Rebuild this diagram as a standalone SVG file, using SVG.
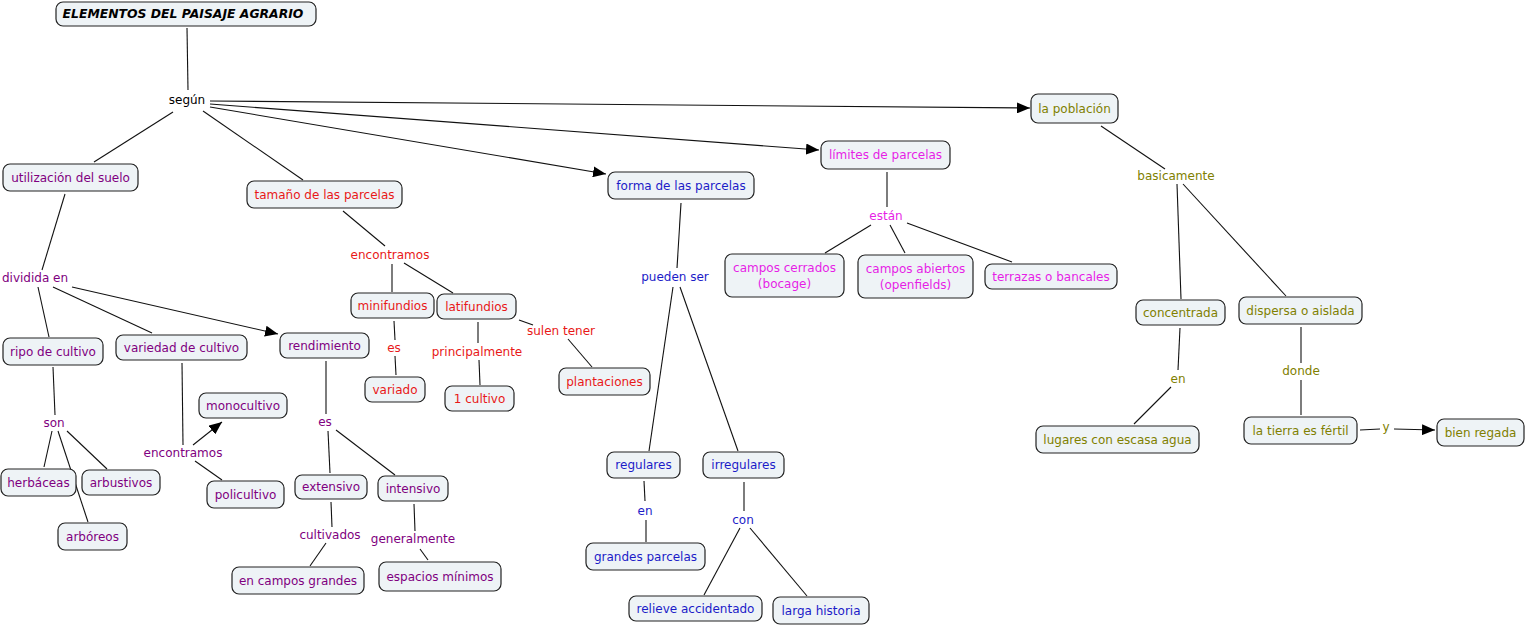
<svg xmlns="http://www.w3.org/2000/svg" width="1527" height="626" viewBox="0 0 1527 626">
<style>
.n rect{fill:#eef3f6;stroke:#222;stroke-width:1.2}
text{font-family:"DejaVu Sans",Verdana,sans-serif;font-size:12px;text-anchor:middle}
.t{font-weight:bold;font-style:italic;fill:#000;font-size:12.4px}
.k{fill:#000}.p{fill:#800080}.r{fill:#e81818}.b{fill:#1c1cc8}.m{fill:#e61ee6}.o{fill:#808000}
#links line{stroke:#111;stroke-width:1.1}
</style>
<defs>
<marker id="ah" viewBox="0 0 13 11" refX="13" refY="5.5" markerWidth="13" markerHeight="11" markerUnits="userSpaceOnUse" orient="auto">
<path d="M0,0 L13,5.5 L0,11 z" fill="#000"/>
</marker>
</defs>
<rect width="1527" height="626" fill="#fff"/>
<g id="links">
<line x1="187" y1="28" x2="188" y2="90"/>
<line x1="173" y1="112" x2="94" y2="162"/>
<line x1="203" y1="111" x2="303" y2="180"/>
<line x1="210" y1="101" x2="1030" y2="108" marker-end="url(#ah)"/>
<line x1="210" y1="104" x2="819" y2="150" marker-end="url(#ah)"/>
<line x1="210" y1="107" x2="606" y2="174" marker-end="url(#ah)"/>
<line x1="65" y1="194" x2="42" y2="270"/>
<line x1="38" y1="287" x2="49" y2="337"/>
<line x1="53" y1="287" x2="152" y2="333"/>
<line x1="72" y1="287" x2="278" y2="334" marker-end="url(#ah)"/>
<line x1="53" y1="367" x2="55" y2="415"/>
<line x1="52" y1="431" x2="44" y2="467"/>
<line x1="58" y1="431" x2="88" y2="522"/>
<line x1="67" y1="431" x2="107" y2="469"/>
<line x1="182" y1="363" x2="183" y2="445"/>
<line x1="193" y1="445" x2="222" y2="422" marker-end="url(#ah)"/>
<line x1="195" y1="461" x2="222" y2="480"/>
<line x1="326" y1="361" x2="326" y2="414"/>
<line x1="328" y1="431" x2="330" y2="473"/>
<line x1="336" y1="430" x2="395" y2="475"/>
<line x1="331" y1="502" x2="332" y2="527"/>
<line x1="326" y1="543" x2="310" y2="566"/>
<line x1="414" y1="504" x2="415" y2="531"/>
<line x1="420" y1="549" x2="428" y2="560"/>
<line x1="343" y1="211" x2="385" y2="246"/>
<line x1="392" y1="264" x2="392" y2="292"/>
<line x1="404" y1="263" x2="453" y2="293"/>
<line x1="394" y1="321" x2="395" y2="340"/>
<line x1="395" y1="356" x2="396" y2="375"/>
<line x1="478" y1="322" x2="478" y2="343"/>
<line x1="479" y1="360" x2="480" y2="385"/>
<line x1="519" y1="320" x2="533" y2="325"/>
<line x1="568" y1="339" x2="592" y2="367"/>
<line x1="681" y1="203" x2="677" y2="268"/>
<line x1="673" y1="287" x2="649" y2="451"/>
<line x1="680" y1="287" x2="738" y2="451"/>
<line x1="644" y1="481" x2="645" y2="501"/>
<line x1="646" y1="520" x2="646" y2="542"/>
<line x1="744" y1="482" x2="744" y2="511"/>
<line x1="740" y1="528" x2="704" y2="595"/>
<line x1="750" y1="528" x2="807" y2="596"/>
<line x1="887" y1="172" x2="887" y2="207"/>
<line x1="871" y1="225" x2="825" y2="253"/>
<line x1="890" y1="225" x2="905" y2="253"/>
<line x1="907" y1="223" x2="1012" y2="262"/>
<line x1="1101" y1="126" x2="1165" y2="169"/>
<line x1="1177" y1="184" x2="1181" y2="299"/>
<line x1="1183" y1="184" x2="1286" y2="296"/>
<line x1="1180" y1="328" x2="1178" y2="370"/>
<line x1="1171" y1="387" x2="1134" y2="424"/>
<line x1="1301" y1="327" x2="1301" y2="363"/>
<line x1="1301" y1="380" x2="1301" y2="415"/>
<line x1="1360" y1="430" x2="1380" y2="429"/>
<line x1="1394" y1="429" x2="1435" y2="430" marker-end="url(#ah)"/>
</g>
<g id="labels">
<text class="k" x="187" y="104">según</text>
<text class="p" x="35" y="282">dividida en</text>
<text class="p" x="54" y="427">son</text>
<text class="p" x="183" y="457">encontramos</text>
<text class="p" x="325" y="426">es</text>
<text class="p" x="330" y="539">cultivados</text>
<text class="p" x="413" y="543">generalmente</text>
<text class="r" x="390" y="259">encontramos</text>
<text class="r" x="394" y="352">es</text>
<text class="r" x="477" y="356">principalmente</text>
<text class="r" x="561" y="335">sulen tener</text>
<text class="b" x="675" y="281">pueden ser</text>
<text class="b" x="645" y="515">en</text>
<text class="b" x="743" y="524">con</text>
<text class="m" x="886" y="220">están</text>
<text class="o" x="1176" y="180">basicamente</text>
<text class="o" x="1178" y="383">en</text>
<text class="o" x="1301" y="375">donde</text>
<text class="o" x="1386" y="431">y</text>
</g>
<g id="title" class="n"><rect x="56" y="2" width="260" height="24" rx="7"/><text class="t" x="183" y="18">ELEMENTOS DEL PAISAJE AGRARIO</text></g>
<g id="utilizacion" class="n"><rect x="3" y="164" width="135" height="27" rx="7"/><text class="p" x="70.5" y="182">utilización del suelo</text></g>
<g id="tamano" class="n"><rect x="247" y="181" width="155" height="27" rx="7"/><text class="r" x="324.5" y="199">tamaño de las parcelas</text></g>
<g id="forma" class="n"><rect x="608" y="172" width="146" height="27" rx="7"/><text class="b" x="681" y="190">forma de las parcelas</text></g>
<g id="limites" class="n"><rect x="821" y="141" width="129" height="28" rx="7"/><text class="m" x="885.5" y="159">límites de parcelas</text></g>
<g id="poblacion" class="n"><rect x="1031" y="94" width="87" height="29" rx="7"/><text class="o" x="1074.5" y="113">la población</text></g>
<g id="ripo" class="n"><rect x="3" y="338" width="100" height="27" rx="7"/><text class="p" x="53" y="356">ripo de cultivo</text></g>
<g id="variedad" class="n"><rect x="116" y="335" width="131" height="25" rx="7"/><text class="p" x="181.5" y="352">variedad de cultivo</text></g>
<g id="rendimiento" class="n"><rect x="280" y="333" width="89" height="25" rx="7"/><text class="p" x="324.5" y="350">rendimiento</text></g>
<g id="herbaceas" class="n"><rect x="1" y="469" width="75" height="27" rx="7"/><text class="p" x="38.5" y="487">herbáceas</text></g>
<g id="arbustivos" class="n"><rect x="82" y="470" width="78" height="25" rx="7"/><text class="p" x="121" y="487">arbustivos</text></g>
<g id="arboreos" class="n"><rect x="58" y="523" width="69" height="27" rx="7"/><text class="p" x="92.5" y="541">arbóreos</text></g>
<g id="monocultivo" class="n"><rect x="199" y="393" width="88" height="25" rx="7"/><text class="p" x="243" y="410">monocultivo</text></g>
<g id="policultivo" class="n"><rect x="207" y="481" width="77" height="27" rx="7"/><text class="p" x="245.5" y="499">policultivo</text></g>
<g id="extensivo" class="n"><rect x="295" y="475" width="72" height="24" rx="7"/><text class="p" x="331" y="491">extensivo</text></g>
<g id="intensivo" class="n"><rect x="378" y="476" width="70" height="25" rx="7"/><text class="p" x="413" y="493">intensivo</text></g>
<g id="camposgrandes" class="n"><rect x="232" y="567" width="132" height="27" rx="7"/><text class="p" x="298" y="585">en campos grandes</text></g>
<g id="espacios" class="n"><rect x="379" y="562" width="122" height="29" rx="7"/><text class="p" x="440" y="581">espacios mínimos</text></g>
<g id="minifundios" class="n"><rect x="351" y="293" width="83" height="25" rx="7"/><text class="r" x="392.5" y="310">minifundios</text></g>
<g id="latifundios" class="n"><rect x="437" y="294" width="79" height="25" rx="7"/><text class="r" x="476.5" y="311">latifundios</text></g>
<g id="variado" class="n"><rect x="365" y="377" width="60" height="25" rx="7"/><text class="r" x="395" y="394">variado</text></g>
<g id="unocultivo" class="n"><rect x="445" y="386" width="69" height="25" rx="7"/><text class="r" x="479.5" y="403">1 cultivo</text></g>
<g id="plantaciones" class="n"><rect x="559" y="368" width="91" height="27" rx="7"/><text class="r" x="604.5" y="386">plantaciones</text></g>
<g id="regulares" class="n"><rect x="607" y="452" width="73" height="26" rx="7"/><text class="b" x="643.5" y="469">regulares</text></g>
<g id="irregulares" class="n"><rect x="703" y="452" width="81" height="26" rx="7"/><text class="b" x="743.5" y="469">irregulares</text></g>
<g id="grandesparcelas" class="n"><rect x="586" y="543" width="119" height="27" rx="7"/><text class="b" x="645.5" y="561">grandes parcelas</text></g>
<g id="relieve" class="n"><rect x="629" y="596" width="133" height="25" rx="7"/><text class="b" x="695.5" y="613">relieve accidentado</text></g>
<g id="larga" class="n"><rect x="773" y="597" width="96" height="27" rx="7"/><text class="b" x="821" y="615">larga historia</text></g>
<g id="cerrados" class="n"><rect x="725" y="254" width="119" height="43" rx="7"/><text class="m" x="784.5" y="272">campos cerrados</text><text class="m" x="784.5" y="288">(bocage)</text></g>
<g id="abiertos" class="n"><rect x="858" y="255" width="115" height="43" rx="7"/><text class="m" x="915.5" y="273">campos abiertos</text><text class="m" x="915.5" y="289">(openfields)</text></g>
<g id="terrazas" class="n"><rect x="985" y="264" width="132" height="25" rx="7"/><text class="m" x="1051" y="281">terrazas o bancales</text></g>
<g id="concentrada" class="n"><rect x="1136" y="300" width="89" height="25" rx="7"/><text class="o" x="1180.5" y="317">concentrada</text></g>
<g id="dispersa" class="n"><rect x="1239" y="297" width="123" height="27" rx="7"/><text class="o" x="1300.5" y="315">dispersa o aislada</text></g>
<g id="lugares" class="n"><rect x="1036" y="426" width="163" height="27" rx="7"/><text class="o" x="1117.5" y="444">lugares con escasa agua</text></g>
<g id="tierra" class="n"><rect x="1244" y="417" width="113" height="27" rx="7"/><text class="o" x="1300.5" y="435">la tierra es fértil</text></g>
<g id="bienregada" class="n"><rect x="1437" y="419" width="87" height="27" rx="7"/><text class="o" x="1480.5" y="437">bien regada</text></g>
</svg>
